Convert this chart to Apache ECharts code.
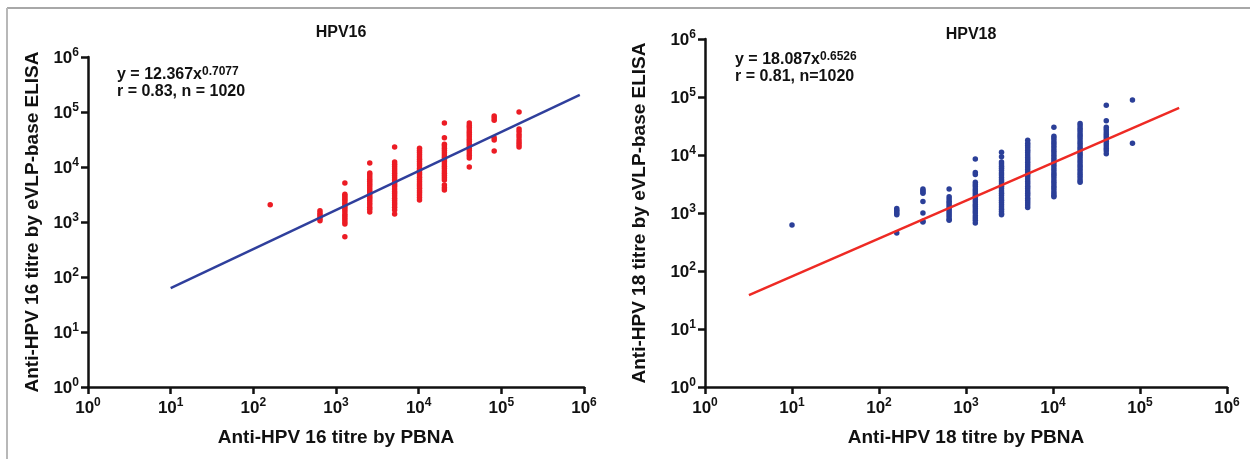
<!DOCTYPE html>
<html>
<head>
<meta charset="utf-8">
<script src="https://cdn.jsdelivr.net/npm/echarts@6/dist/echarts.min.js"></script>
<style>
html,body{margin:0;padding:0;background:#fff;}
#c{width:1250px;height:459px;}
</style>
</head>
<body>
<div id="c"></div>
<script>
// ---------- Data ----------
const tickExponents = [0, 1, 2, 3, 4, 5, 6];

// HPV16: PBNA titres (x) and ELISA titres (y) for each dilution column
const hpv16X = [160, 640, 1280, 2560, 5120, 10240, 20480, 40960, 81920, 163840];
const hpv16Y = [
  [2050],
  [1600, 1450, 1350, 1250, 1150, 1050],
  [5100, 3200, 3000, 2800, 2600, 2400, 2200, 2000, 1850, 1700, 1550, 1400, 1300, 1200, 1100, 1000, 920, 540],
  [11800, 7800, 7200, 6600, 6000, 5500, 5000, 4600, 4200, 3800, 3500, 3200, 2900, 2700, 2450, 2250, 2050, 1850, 1700, 1520],
  [23000, 12300, 11200, 10200, 9300, 8500, 7700, 7000, 6400, 5800, 5300, 4800, 4400, 4000, 3600, 3300, 3000, 2700, 2450, 2250, 2050, 1850, 1650, 1400],
  [22000, 20000, 18300, 16700, 15200, 13800, 12600, 11500, 10500, 9500, 8700, 7900, 7200, 6500, 5900, 5400, 4900, 4500, 4100, 3700, 3400, 3100, 2800, 2500],
  [63000, 34000, 26000, 24000, 22000, 20000, 18200, 16500, 15000, 13600, 12400, 11300, 10300, 9400, 8500, 7700, 7000, 6400, 5800, 4700, 4200, 3800],
  [63000, 57000, 52000, 47000, 43000, 39000, 35500, 32000, 29000, 26500, 24000, 22000, 20000, 18000, 16200, 14500, 10000],
  [85000, 78000, 71000, 34000, 31000, 19500],
  [100000, 49000, 44000, 39000, 35000, 31000, 28000, 25500, 23000]
];
const hpv16FitX = [10, 890000];
const hpv16FitY = [63, 204000];

// HPV18
const hpv18X = [10, 160, 320, 640, 1280, 2560, 5120, 10240, 20480, 40960, 81920];
const hpv18Y = [
  [620],
  [1200, 1120, 1050, 980, 930, 450],
  [2600, 2450, 2300, 2200, 1580, 1000, 720, 700],
  [2600, 1900, 1750, 1600, 1480, 1370, 1270, 1170, 1080, 1000, 920, 850, 780, 750],
  [8500, 5000, 4600, 3400, 3100, 2850, 2600, 2400, 2200, 2000, 1850, 1700, 1550, 1400, 1300, 1180, 1080, 1000, 900, 820, 750, 670],
  [11200, 9300, 7600, 7000, 6400, 5900, 5400, 4900, 4500, 4100, 3750, 3450, 3150, 2900, 2650, 2400, 2200, 2000, 1820, 1660, 1520, 1390, 1270, 1160, 1060, 970, 930],
  [18000, 16000, 14600, 13300, 12100, 11000, 10000, 9100, 8300, 7500, 6800, 6200, 5600, 5100, 4650, 4250, 3850, 3500, 3200, 2900, 2650, 2400, 2200, 2000, 1800, 1650, 1500, 1370, 1250],
  [30000, 21000, 19200, 17500, 15900, 14500, 13200, 12000, 10900, 9900, 9000, 8200, 7500, 6800, 6200, 5600, 5100, 4650, 4250, 3850, 3500, 3200, 2900, 2650, 2400, 2200, 2000, 1900],
  [35000, 32000, 29000, 26500, 24000, 22000, 20000, 18200, 16500, 15000, 13600, 12400, 11300, 10300, 9400, 8500, 7700, 7000, 6400, 5800, 5300, 4800, 4400, 4000, 3650, 3400],
  [72000, 39000, 30000, 27500, 25000, 22800, 20800, 19000, 17300, 15700, 14300, 13000, 11800, 10500],
  [89000, 16000]
];
const hpv18FitX = [3.2, 282000];
const hpv18FitY = [38.5, 65000];

// ---------- Build ----------
function pts(xs, ys) {
  const out = [];
  xs.forEach((x, i) => ys[i].forEach(y => out.push([x, y])));
  return out;
}
function line(xs, ys) { return xs.map((x, i) => [x, ys[i]]); }

const FONT = '"Liberation Sans", Arial, sans-serif';
const rich = {
  b: {fontFamily: FONT, fontWeight: 'bold', fontSize: 17, color: '#111', lineHeight: 20, verticalAlign: 'bottom'},
  s: {fontFamily: FONT, fontWeight: 'bold', fontSize: 12, color: '#111', lineHeight: 20, verticalAlign: 'top'}
};
function fmt(v) {
  const e = Math.round(Math.log10(v));
  return '{b|10}{s|' + e + '}';
}
function axis(name, gridIndex, isX, gap) {
  return {
    type: 'log', logBase: 10, min: 1, max: 1e6, gridIndex: gridIndex,
    name: name, nameLocation: 'middle', nameGap: gap,
    nameTextStyle: {fontFamily: FONT, fontWeight: 'bold', fontSize: 19, color: '#111'},
    axisLine: {show: true, onZero: false, lineStyle: {color: '#111', width: 2.5}},
    axisTick: {show: true, inside: false, length: 7, lineStyle: {color: '#111', width: 2.5}},
    minorTick: {show: false},
    splitLine: {show: false},
    axisLabel: {formatter: fmt, rich: rich, margin: isX ? 10 : 9}
  };
}

const chart = echarts.init(document.getElementById('c'), null, {renderer: 'canvas'});
chart.setOption({
  backgroundColor: '#fff',
  animation: false,
  title: [
    {text: 'HPV16', left: 336, top: 20, textAlign: 'center',
     textStyle: {fontFamily: FONT, fontWeight: 'bold', fontSize: 16, color: '#111'}},
    {text: 'HPV18', left: 966, top: 22, textAlign: 'center',
     textStyle: {fontFamily: FONT, fontWeight: 'bold', fontSize: 16, color: '#111'}}
  ],
  grid: [
    {left: 88, top: 57, width: 496, height: 330},
    {left: 705, top: 39, width: 522, height: 348}
  ],
  xAxis: [
    axis('Anti-HPV 16 titre by PBNA', 0, true, 41),
    axis('Anti-HPV 18 titre by PBNA', 1, true, 41)
  ],
  yAxis: [
    axis('Anti-HPV 16 titre by eVLP-base ELISA', 0, false, 46),
    axis('Anti-HPV 18 titre by eVLP-base ELISA', 1, false, 56)
  ],
  graphic: [
    {type: 'line', shape: {x1: 7, y1: 8, x2: 1250, y2: 8}, style: {stroke: '#a8a8a8', lineWidth: 2}},
    {type: 'line', shape: {x1: 7, y1: 8, x2: 7, y2: 459}, style: {stroke: '#b8b8b8', lineWidth: 2}},
    {type: 'text', left: 117, top: 66, style: {
      text: '{a|y = 12.367x}{p|0.7077}\n{a|r = 0.83, n = 1020}',
      rich: {
        a: {fontFamily: FONT, fontWeight: 'bold', fontSize: 16, fill: '#111', lineHeight: 17, verticalAlign: 'bottom'},
        p: {fontFamily: FONT, fontWeight: 'bold', fontSize: 12, fill: '#111', lineHeight: 17, verticalAlign: 'top'}
      }}},
    {type: 'text', left: 735, top: 51, style: {
      text: '{a|y = 18.087x}{p|0.6526}\n{a|r = 0.81, n=1020}',
      rich: {
        a: {fontFamily: FONT, fontWeight: 'bold', fontSize: 16, fill: '#111', lineHeight: 17, verticalAlign: 'bottom'},
        p: {fontFamily: FONT, fontWeight: 'bold', fontSize: 12, fill: '#111', lineHeight: 17, verticalAlign: 'top'}
      }}}
  ],
  series: [
    {type: 'scatter', xAxisIndex: 0, yAxisIndex: 0, symbol: 'circle', symbolSize: 5.5,
     itemStyle: {color: '#ec1c24', opacity: 1}, data: pts(hpv16X, hpv16Y), z: 2},
    {type: 'line', xAxisIndex: 0, yAxisIndex: 0, showSymbol: false, symbol: 'none',
     lineStyle: {color: '#2f3f9c', width: 2.5}, data: line(hpv16FitX, hpv16FitY), z: 3},
    {type: 'scatter', xAxisIndex: 1, yAxisIndex: 1, symbol: 'circle', symbolSize: 5.5,
     itemStyle: {color: '#2b3f98', opacity: 1}, data: pts(hpv18X, hpv18Y), z: 2},
    {type: 'line', xAxisIndex: 1, yAxisIndex: 1, showSymbol: false, symbol: 'none',
     lineStyle: {color: '#ee2a24', width: 2.5}, data: line(hpv18FitX, hpv18FitY), z: 3}
  ]
});
</script>
</body>
</html>
